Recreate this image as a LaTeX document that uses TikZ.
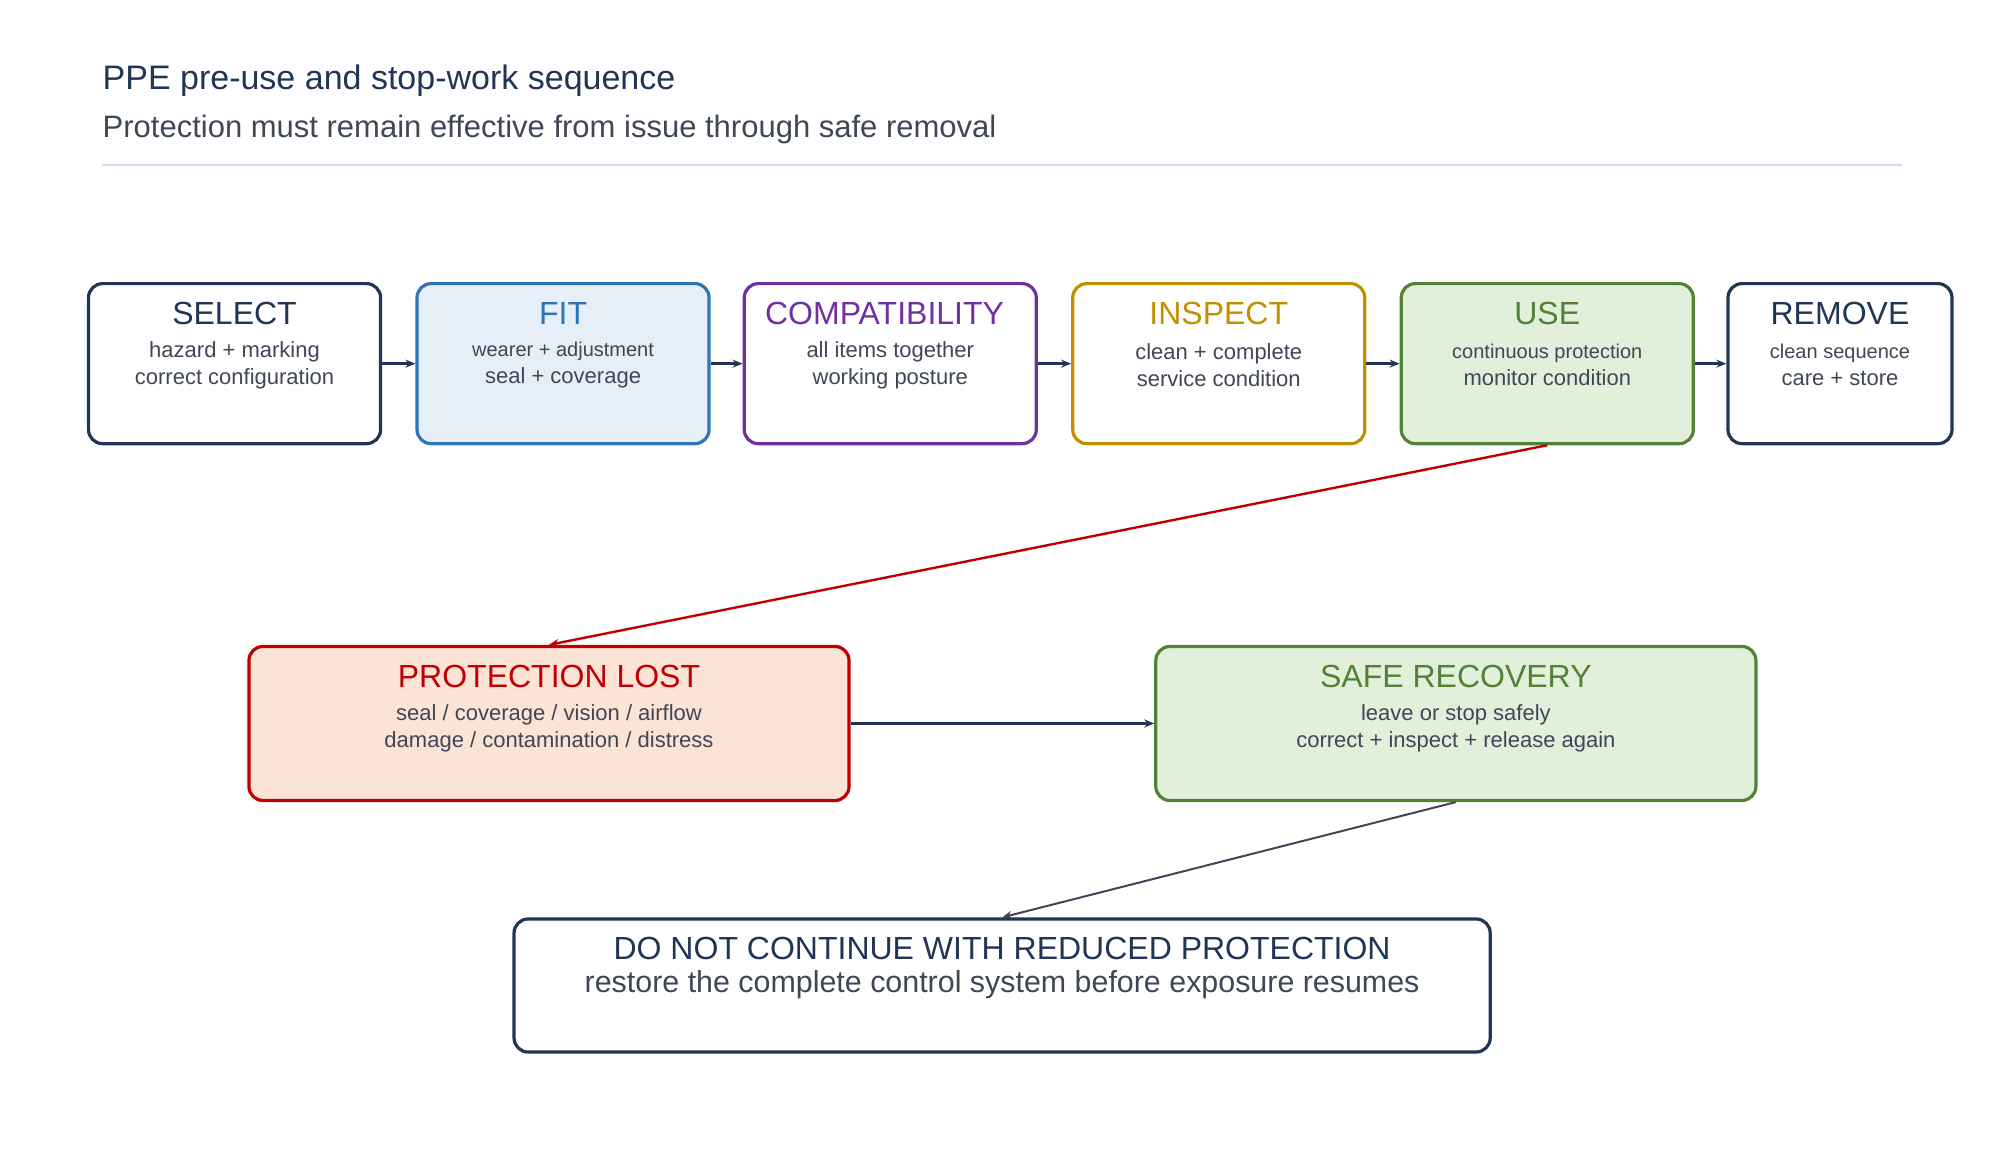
\documentclass[tikz,border=0pt]{standalone}
\usepackage{fontspec}
\setmainfont{Liberation Sans}
\usetikzlibrary{arrows.meta}
\definecolor{navy}{HTML}{1F3656}
\definecolor{txtgray}{HTML}{3F4756}
\definecolor{fitblue}{HTML}{2E75B6}
\definecolor{fitfill}{HTML}{E6EFF7}
\definecolor{purp}{HTML}{7030A0}
\definecolor{gold}{HTML}{C09000}
\definecolor{grn}{HTML}{548235}
\definecolor{grnfill}{HTML}{E2EFDA}
\definecolor{redd}{HTML}{C00000}
\definecolor{redfill}{HTML}{FBE3D6}
\definecolor{rulec}{HTML}{D3DAF2}
\tikzset{
  stage/.style={draw=#1, line width=1.6pt, rounded corners=7pt, minimum width=146pt, minimum height=80pt, inner sep=0pt},
  head/.style={text=#1, font=\fontsize{16}{18}\selectfont},
  body/.style={text=txtgray, font=\fontsize{11}{13.5}\selectfont, align=center},
  small/.style={body, font=\fontsize{10}{13.5}\selectfont},
  flow/.style={-{Stealth[length=5pt,width=4pt]}, line width=1.3pt, draw=navy},
}
\begin{document}
\begin{tikzpicture}[x=0.639pt, y=-0.639pt]
  \useasboundingbox (0,0) rectangle (1560,908);

  % heading
  \node[anchor=west, inner sep=0pt, text=navy, font=\fontsize{17}{20}\selectfont] (title) at (80,63) {PPE pre-use and stop-work sequence};
  \node[anchor=west, inner sep=0pt, text=txtgray, font=\fontsize{15.5}{18}\selectfont] (subtitle) at (80,101) {Protection must remain effective from issue through safe removal};
  \coordinate (ruleL) at (80,129);
  \coordinate (ruleR) at (1488,129);
  \draw[rulec, line width=1pt] (ruleL) -- (ruleR);

  % top row
  \node[stage=navy] (select) at (183.5,284.5) {};
  \node[stage=fitblue, fill=fitfill] (fit) at (440.5,284.5) {};
  \node[stage=purp] (compat) at (696.5,284.5) {};
  \node[stage=gold] (inspect) at (953.5,284.5) {};
  \node[stage=grn, fill=grnfill] (use) at (1210.5,284.5) {};
  \node[stage=navy, minimum width=112pt] (remove) at (1439.5,284.5) {};

  \node[head=navy] (selectH) at (183.5,245) {SELECT};
  \node[body] (selectB) at (183.5,285.5) {hazard + marking\\correct configuration};
  \node[head=fitblue] (fitH) at (440.5,245) {FIT};
  \node[small] (fitB) at (440.5,285.5) {wearer + adjustment\\\fontsize{11}{13.5}\selectfont seal + coverage};
  \node[head=purp] (compatH) at (692,245) {COMPATIBILITY};
  \node[body] (compatB) at (696.5,285.5) {all items together\\working posture};
  \node[head=gold] (inspectH) at (953.5,245) {INSPECT};
  \node[body] (inspectB) at (953.5,285.5) {clean + complete\\service condition};
  \node[head=grn] (useH) at (1210.5,245) {USE};
  \node[small] (useB) at (1210.5,285.5) {continuous protection\\\fontsize{11}{13.5}\selectfont monitor condition};
  \node[head=navy] (removeH) at (1439.5,245) {REMOVE};
  \node[small] (removeB) at (1439.5,285.5) {clean sequence\\\fontsize{11}{13.5}\selectfont care + store};

  \draw[flow] (select) -- (fit);
  \draw[flow] (fit) -- (compat);
  \draw[flow] (compat) -- (inspect);
  \draw[flow] (inspect) -- (use);
  \draw[flow] (use) -- (remove);

  % second row
  \node[stage=redd, fill=redfill, minimum width=300pt, minimum height=77pt] (lost) at (429.5,566) {};
  \node[stage=grn, fill=grnfill, minimum width=300pt, minimum height=77pt] (recover) at (1139,566) {};
  \node[head=redd] (lostH) at (429.5,529) {PROTECTION LOST};
  \node[body] (lostB) at (429.5,569.5) {seal / coverage / vision / airflow\\damage / contamination / distress};
  \node[head=grn] (recoverH) at (1139,529) {SAFE RECOVERY};
  \node[body] (recoverB) at (1139,569.5) {leave or stop safely\\correct + inspect + release again};

  \draw[flow, draw=redd, line width=1.2pt] (use.south) -- (lost.north);
  \draw[flow] (lost) -- (recover);

  % bottom
  \node[stage=navy, minimum width=488pt, minimum height=66.5pt] (stop) at (784,771) {};
  \node[head=navy] (stopH) at (784,742) {DO NOT CONTINUE WITH REDUCED PROTECTION};
  \node[text=txtgray, font=\fontsize{15.2}{17}\selectfont] (stopB) at (784,770) {restore the complete control system before exposure resumes};
  \draw[flow, draw=txtgray, line width=1pt] (recover.south) -- (stop.north);
\end{tikzpicture}
\end{document}
